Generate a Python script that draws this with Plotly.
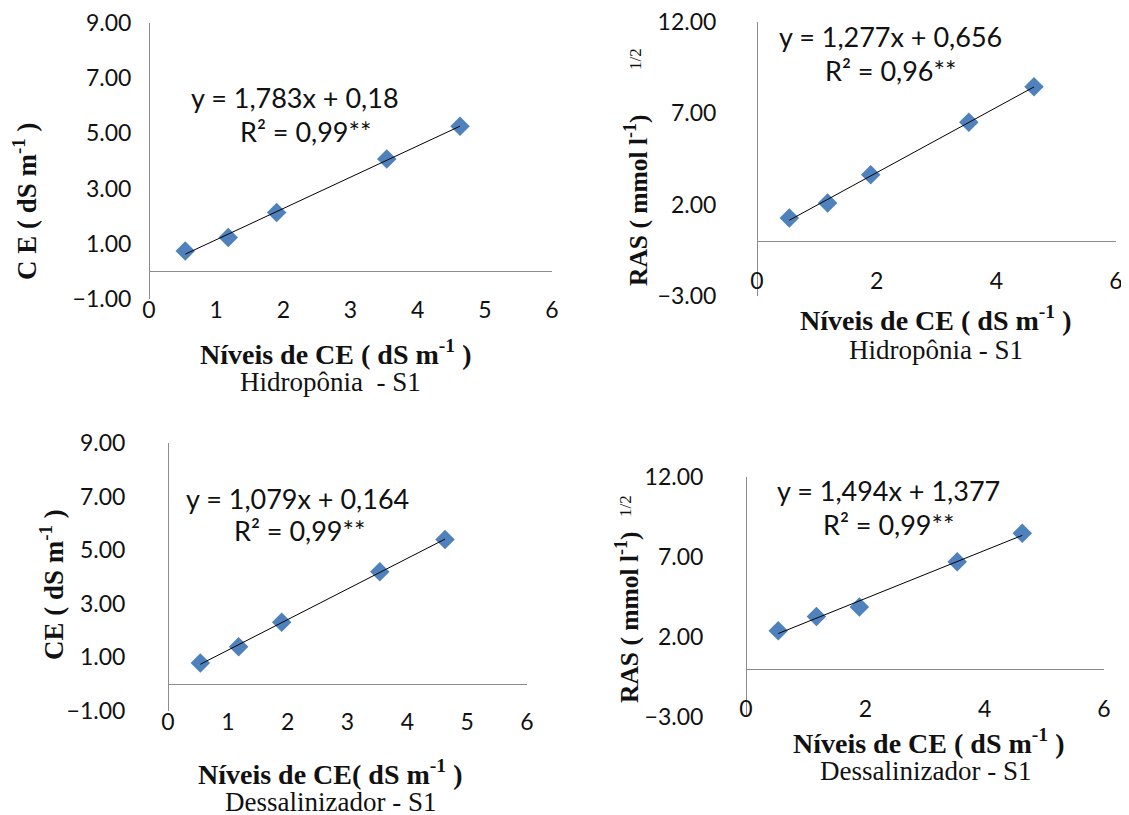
import numpy as np
import plotly.graph_objects as go

W, H = 1129, 815
OFF = 8  # page body margin: the figure is drawn 8 px right/down of the window corner

# ---------------- data ----------------
niveis_ce = [0.54, 1.18, 1.90, 3.54, 4.63]          # x: Níveis de CE (dS m-1)
ce_hidroponia = [0.74, 1.23, 2.13, 4.07, 5.26]      # panel 1
ras_hidroponia = [1.27, 2.09, 3.64, 6.51, 8.45]     # panel 2
ce_dessal = [0.79, 1.40, 2.31, 4.20, 5.40]          # panel 3
ras_dessal = [2.39, 3.28, 3.87, 6.70, 8.48]         # panel 4

eq_texts = ["y = 1,783x + 0,18", "y = 1,277x + 0,656", "y = 1,079x + 0,164", "y = 1,494x + 1,377"]
r2_texts = ["R² = 0,99**", "R² = 0,96**", "R² = 0,99**", "R² = 0,99**"]
sub_titles = ["Hidropônia\u00a0\u00a0- S1", "Hidropônia - S1", "Dessalinizador - S1", "Dessalinizador - S1"]
x_titles = ["Níveis de CE ( dS m<sup>-1</sup> )", "Níveis de CE ( dS m<sup>-1</sup> )",
            "Níveis de CE( dS m<sup>-1</sup> )", "Níveis de CE ( dS m<sup>-1</sup> )"]
y_titles = ["C E ( dS m<sup>-1</sup> )", "RAS ( mmol l<sup>-1</sup>)",
            "CE ( dS m<sup>-1</sup> )", "RAS ( mmol l<sup>-1</sup>)"]
ce_ticks = [-1, 1, 3, 5, 7, 9]
ras_ticks = [-3, 2, 7, 12]

# ---------------- layout helpers (window pixel -> paper) ----------------
def px(x):
    return (x - OFF) / W

def py(y):
    return 1 - (y - OFF) / H

# plot boxes: left, right, top, bottom in window pixels
boxes = [
    (149, 552, 23, 299),
    (757, 1116, 22, 296),
    (168, 527, 443, 711),
    (746, 1104, 477, 717),
]
xlabel_center = [308, 279, 720, 707]
ystandoff = [13, 36, 38, 38]

series = [ce_hidroponia, ras_hidroponia, ce_dessal, ras_dessal]
yranges = [[-1, 9], [-3, 12], [-1, 9], [-3, 12]]
yticks = [ce_ticks, ras_ticks, ce_ticks, ras_ticks]
xdticks = [1, 2, 1, 2]

MARK = "#4F81BD"
AXIS = "#8C8C8C"
SERIF = "Liberation Serif, Times New Roman, serif"
SANS = "Lato, Open Sans, sans-serif"
TICKFONT = dict(family=SANS, size=23, color="#111111")

fig = go.Figure()
layout = {}
for i, (ys, box) in enumerate(zip(series, boxes)):
    n = i + 1
    sfx = "" if n == 1 else str(n)
    xa, ya = "x" + sfx, "y" + sfx
    l, r, t, b = box
    fig.add_trace(go.Scatter(
        x=niveis_ce, y=ys, mode="markers", xaxis=xa, yaxis=ya,
        marker=dict(symbol="diamond", size=15, color=MARK, line=dict(width=0)),
        showlegend=False, hoverinfo="x+y"))
    k, c = np.polyfit(niveis_ce, ys, 1)
    xs = [niveis_ce[0], niveis_ce[-1]]
    fig.add_trace(go.Scatter(
        x=xs, y=[k * v + c for v in xs], mode="lines", xaxis=xa, yaxis=ya,
        line=dict(color="#000000", width=1), showlegend=False, hoverinfo="skip"))

    layout["xaxis" + sfx] = dict(
        domain=[px(l), px(r)], anchor="free", position=py(xlabel_center[i] - 14),
        range=[0, 6], dtick=xdticks[i], tick0=0,
        showgrid=False, zeroline=False, showline=False, ticks="",
        tickfont=TICKFONT, ticklabeloverflow="allow",
    )
    layout["yaxis" + sfx] = dict(
        domain=[py(b), py(t)], anchor="free", position=px(l), range=yranges[i],
        tickvals=yticks[i], tickformat=".2f",
        showgrid=False, zeroline=True, zerolinecolor=AXIS, zerolinewidth=1,
        showline=True, linecolor=AXIS, linewidth=1, ticks="",
        tickfont=TICKFONT, ticklabelstandoff=ystandoff[i], ticklabeloverflow="allow",
    )

annotations = []
def ann(text, x, y, size, family, bold=False, angle=0, color="#111111"):
    annotations.append(dict(
        text=f"<b>{text}</b>" if bold else text, x=px(x), y=py(y),
        xref="paper", yref="paper", showarrow=False, textangle=angle,
        xanchor="center", yanchor="middle",
        font=dict(size=size, family=family, color=color)))

# equation + R² labels (centre x, y in window pixels)
eq_pos = [(295, 97, 305, 131), (890, 36, 890, 70), (297, 498, 299, 530), (888, 490, 888, 524)]
for i in range(4):
    ex, ey, rx, ry = eq_pos[i]
    ann(eq_texts[i], ex, ey, 27, SANS)
    ann(r2_texts[i], rx, ry, 27, SANS)

# x titles and subtitles
xt_pos = [(335, 352, 330, 382), (936, 318, 936, 350), (330, 772, 330, 802), (928, 741, 925, 771)]
for i in range(4):
    ax_, ay_, sx, sy = xt_pos[i]
    ann(x_titles[i], ax_, ay_, 28, SERIF, bold=True)
    ann(sub_titles[i], sx, sy, 27, SERIF)

# y titles (rotated)
yt_pos = [(25, 201, 27), (637, 201, 25.5), (52, 585, 27), (627, 618, 25.5)]
for i, (x0, y0, s) in enumerate(yt_pos):
    ann(y_titles[i], x0, y0, s, SERIF, bold=True, angle=-90)
ann("1/2", 636, 59, 17, SERIF, angle=-90)
ann("1/2", 625, 506, 17, SERIF, angle=-90)

fig.update_layout(
    width=W, height=H, margin=dict(l=0, r=0, t=0, b=0, autoexpand=False),
    paper_bgcolor="white", plot_bgcolor="white",
    annotations=annotations, **layout)

fig.write_html("out.html")
